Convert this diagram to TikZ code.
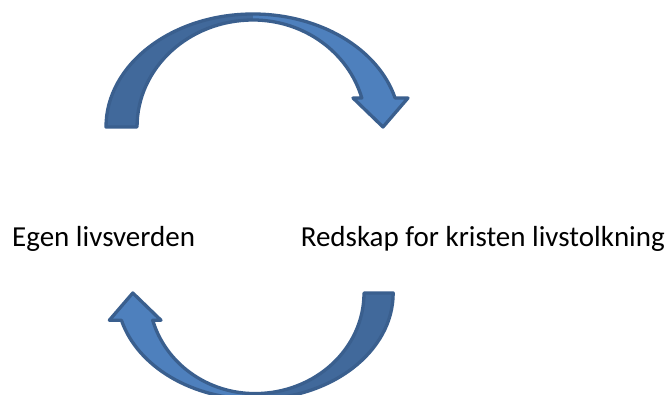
\documentclass[tikz,border=0pt]{standalone}
\usepackage{fontspec}
\setmainfont{Carlito}
\definecolor{arrdark}{HTML}{41699B}
\definecolor{arrlight}{HTML}{4E80BD}
\definecolor{arredge}{HTML}{3A5F8E}
\tikzset{
  lbl/.style={inner sep=0pt, font=\fontsize{29}{35}\selectfont, text=black},
  curvarrow/.pic={
    \fill[arrdark] (-147,0) arc[start angle=180,end angle=90,x radius=147,y radius=113]
      -- (0,107) arc[start angle=90,end angle=180,x radius=116,y radius=107] -- cycle;
    \fill[arrlight] (0,113) arc[start angle=90,end angle=14.9,x radius=147,y radius=113]
      -- (155,29) -- (130,0) -- (100,29) -- (108.8,29)
      arc[start angle=15.73,end angle=90,x radius=113,y radius=107] -- cycle;
    \draw[arredge, line width=3.3pt, line join=round]
      (-147,0) arc[start angle=180,end angle=14.9,x radius=147,y radius=113]
      -- (155,29) -- (130,0) -- (100,29) -- (108.8,29)
      arc[start angle=15.73,end angle=90,x radius=113,y radius=107]
      arc[start angle=90,end angle=180,x radius=116,y radius=107] -- cycle;
  }
}
\begin{document}
\begin{tikzpicture}[x=1pt,y=1pt]
\clip (0,0) rectangle (670,394);
\fill[white] (0,0) rectangle (670,394);
\pic (toparrow) at (253,267) {curvarrow};
\pic[rotate=180,scale=0.94] (botarrow) at (255,101) {curvarrow};
\node[lbl, anchor=base west] (egen) at (12,147) {Egen livsverden};
\node[lbl, anchor=base east] (redskap) at (665,147) {Redskap for kristen livstolkning};
\end{tikzpicture}
\end{document}
